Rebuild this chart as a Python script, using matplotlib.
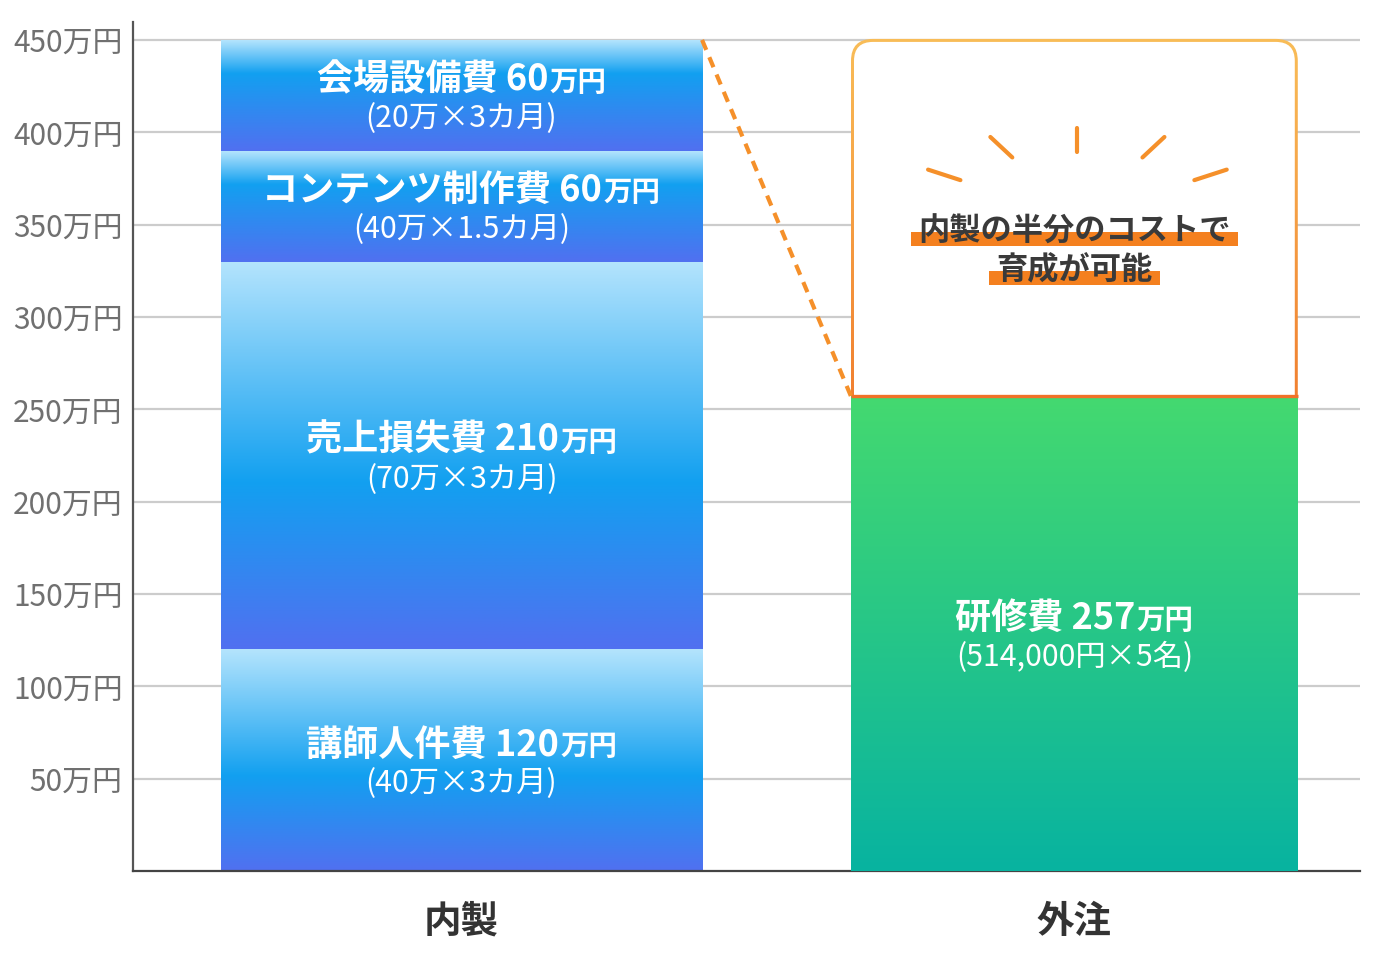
import numpy as np
import matplotlib.pyplot as plt
from matplotlib.colors import LinearSegmentedColormap
from matplotlib.patches import FancyBboxPatch, Rectangle
from matplotlib.offsetbox import TextArea, HPacker, AnnotationBbox

plt.rcParams['font.family'] = ['Noto Sans CJK JP', 'DejaVu Sans']

# -------------------------------------------------------
# data
# -------------------------------------------------------
categories = ['内製', '外注']

inhouse_items = ['講師人件費', '売上損失費', 'コンテンツ制作費', '会場設備費']
inhouse_values = [120, 210, 60, 60]
inhouse_notes = ['(40万×3カ月)', '(70万×3カ月)', '(40万×1.5カ月)', '(20万×3カ月)']

outsource_items = ['研修費']
outsource_values = [257]
outsource_notes = ['(514,000円×5名)']

y_ticks = [50, 100, 150, 200, 250, 300, 350, 400, 450]
y_tick_labels = [f'{v}万円' for v in y_ticks]

callout_lines = ['内製の半分のコストで', '育成が可能']

# -------------------------------------------------------
# style
# -------------------------------------------------------
bar_widths = [0.785, 0.729]
blue_colors = ['#b4e4fd', '#12a0f0', '#5170f0']
blue_mid_stop = [0.57, 0.57, 0.3, 0.3]
green_colors = ['#44d970', '#08b3a0']
orange = '#f5902a'

fig = plt.figure(figsize=(13.76, 9.6), dpi=100)
ax = fig.add_axes([133 / 1376, 89 / 960, 1227 / 1376, 849 / 960])
ax.set_xlim(-0.536, 1.466)
ax.set_ylim(0, 459.7)

# pixel <-> data helpers (figure size / axes are fixed)
px_x = ax.transData.transform((1, 0))[0] - ax.transData.transform((0, 0))[0]
px_y = ax.transData.transform((0, 1))[1] - ax.transData.transform((0, 0))[1]


def grad_fill(x0, x1, y0, y1, colors, stops, zorder, clip=None):
    cmap = LinearSegmentedColormap.from_list('g', list(zip(stops, colors)))
    g = cmap(np.linspace(0, 1, 256).reshape(-1, 1))
    im = ax.imshow(g, extent=[x0, x1, y0, y1], aspect='auto', origin='upper',
                   zorder=zorder, interpolation='bilinear')
    if clip is not None:
        im.set_clip_path(clip)
    return im


def bar_label(x, y, item, value, note):
    t1 = TextArea(f'{item} {value}', textprops=dict(color='white', fontsize=26, fontweight='bold'))
    t2 = TextArea('万円', textprops=dict(color='white', fontsize=20.5, fontweight='bold'))
    pack = HPacker(children=[t1, t2], align='baseline', pad=0, sep=1)
    ab = AnnotationBbox(pack, (x, y), xybox=(0, 11.0), xycoords='data',
                        boxcoords='offset points', frameon=False,
                        box_alignment=(0.5, 0.5), zorder=6)
    ax.add_artist(ab)
    ax.annotate(note, (x, y), xytext=(0, -17.0), textcoords='offset points',
                ha='center', va='center', color='white', fontsize=21.8, zorder=6)


# -------------------------------------------------------
# stacked in-house bar
# -------------------------------------------------------
xi = 0
w = bar_widths[0]
bottom = 0
for item, val, note, mid in zip(inhouse_items, inhouse_values, inhouse_notes, blue_mid_stop):
    grad_fill(xi - w / 2, xi + w / 2, bottom, bottom + val, blue_colors, [0, mid, 1], zorder=2)
    bar_label(xi, bottom + val / 2, item, val, note)
    bottom += val
inhouse_total = bottom

# -------------------------------------------------------
# outsource bar + callout box
# -------------------------------------------------------
xo = 1
wo = bar_widths[1]
out_total = sum(outsource_values)

# rounded box with gradient border (drawn first, bar covers its lower part)
bx0, bx1 = xo - wo / 2, xo + wo / 2
box_bottom = out_total - 20
box_top = inhouse_total + 1 / px_y
rad = 22 / px_x
aspect = px_x / px_y
outer = FancyBboxPatch((bx0, box_bottom), bx1 - bx0, box_top - box_bottom,
                       boxstyle=f'round,pad=0,rounding_size={rad}',
                       mutation_aspect=aspect, facecolor='none', edgecolor='none',
                       transform=ax.transData)
ax.add_patch(outer)
grad_fill(bx0, bx1, box_bottom, box_top, ['#f9bd58', '#f07a2c'], [0, 1], zorder=2.5, clip=outer)
inset_x, inset_y = 3 / px_x, 3 / px_y
inner = FancyBboxPatch((bx0 + inset_x, box_bottom), bx1 - bx0 - 2 * inset_x,
                       box_top - box_bottom - inset_y,
                       boxstyle=f'round,pad=0,rounding_size={rad - inset_x}',
                       mutation_aspect=aspect, facecolor='white', edgecolor='none', zorder=2.6)
ax.add_patch(inner)

bottom = 0
for item, val, note in zip(outsource_items, outsource_values, outsource_notes):
    grad_fill(xo - wo / 2, xo + wo / 2, bottom, bottom + val, green_colors, [0, 1], zorder=3)
    bar_label(xo, bottom + val / 2, item, val, note)
    bottom += val

ax.plot([bx0, bx1], [out_total, out_total], color='#f07228', lw=2.4, zorder=3.5,
        solid_capstyle='butt')

# dashed connector
ax.plot([xi + w / 2, xo - wo / 2], [inhouse_total, out_total], color=orange,
        lw=3, ls=(0, (2.6, 1.9)), zorder=3.5)

# rays above the callout text
box_cx = xo
box_cy = (out_total + inhouse_total) / 2
ray_angles = [162, 137, 90, 43, 18]
ray_inner = [123, 89, 66, 89, 123]
ray_len = [34, 30, 24, 30, 34]
for ang, r0, ln in zip(ray_angles, ray_inner, ray_len):
    a = np.deg2rad(ang)
    rs = np.array([r0, r0 + ln])
    ax.plot(box_cx + 3 / px_x + rs * np.cos(a) / px_x, box_cy + rs * np.sin(a) / px_y,
            color=orange, lw=3, solid_capstyle='round', zorder=4)

# callout text
callout_offsets = [-9.6, -37.7]
callout_texts = []
for line, off in zip(callout_lines, callout_offsets):
    t = ax.annotate(line, (box_cx, box_cy), xytext=(0, off), textcoords='offset points',
                    ha='center', va='center', fontsize=22.5, fontweight='bold',
                    color='#3a3a3a', zorder=6)
    callout_texts.append(t)

# -------------------------------------------------------
# axes styling
# -------------------------------------------------------
ax.set_yticks(y_ticks, y_tick_labels)
ax.set_xticks([xi, xo], categories)
ax.tick_params(axis='y', length=0, pad=7.5, labelsize=21.5, labelcolor='#707070')
ax.tick_params(axis='x', length=0, pad=22, labelsize=27, labelcolor='#333333')
for lab in ax.get_xticklabels():
    lab.set_fontweight('bold')
ax.yaxis.grid(True, color='#cccccc', lw=1.6, zorder=0.5)
ax.set_axisbelow(True)
for s in ['top', 'right']:
    ax.spines[s].set_visible(False)
ax.spines['left'].set_color('#555555')
ax.spines['left'].set_linewidth(1.6)
ax.spines['bottom'].set_color('#444444')
ax.spines['bottom'].set_linewidth(1.6)

# highlight marker under callout text (needs text extents)
fig.canvas.draw()
inv = ax.transData.inverted()
for t in callout_texts:
    bb = t.get_window_extent()
    cy = (bb.y0 + bb.y1) / 2
    (x0, y0) = inv.transform((bb.x0 - 7, cy - 15))
    (x1, y1) = inv.transform((bb.x1 + 7, cy - 1))
    ax.add_patch(Rectangle((x0, y0), x1 - x0, y1 - y0, facecolor='#f4801f',
                           edgecolor='none', zorder=5))

fig.savefig('out.png', dpi=100)
